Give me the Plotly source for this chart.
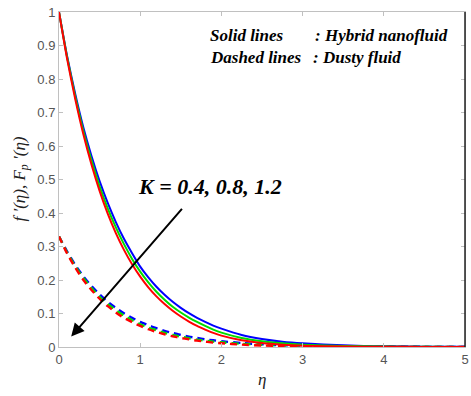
import plotly.graph_objects as go

eta = [0, 0.1, 0.2, 0.3, 0.4, 0.5, 0.6, 0.7, 0.8, 0.9, 1.0,
       1.1, 1.2, 1.3, 1.4, 1.5, 1.6, 1.7, 1.8, 1.9, 2.0,
       2.25, 2.5, 2.75, 3, 3.5, 4, 4.5, 5]

# Solid lines: hybrid nanofluid f'(eta), K = 0.4, 0.8, 1.2
f_K04 = [1, 0.868, 0.755, 0.655, 0.57, 0.495, 0.43, 0.373, 0.323, 0.28, 0.24,
         0.208, 0.18, 0.156, 0.135, 0.117, 0.101, 0.087, 0.075, 0.064, 0.055,
         0.036, 0.024, 0.016, 0.011, 0.005, 0.002, 0.001, 0.0005]
f_K08 = [1, 0.865, 0.748, 0.645, 0.557, 0.48, 0.414, 0.357, 0.307, 0.263, 0.225,
         0.193, 0.165, 0.141, 0.12, 0.103, 0.088, 0.075, 0.063, 0.052, 0.043,
         0.027, 0.017, 0.011, 0.007, 0.003, 0.0015, 0.0007, 0.0003]
f_K12 = [1, 0.86, 0.74, 0.635, 0.545, 0.466, 0.398, 0.34, 0.29, 0.247, 0.21,
         0.178, 0.151, 0.128, 0.108, 0.091, 0.076, 0.063, 0.052, 0.042, 0.034,
         0.02, 0.012, 0.007, 0.004, 0.0015, 0.0006, 0.0002, 0.0]

# Dashed lines: dusty fluid F_p'(eta)
Fp_K04 = [0.33, 0.285, 0.245, 0.211, 0.182, 0.157, 0.135, 0.117, 0.101, 0.087, 0.075,
          0.065, 0.056, 0.048, 0.042, 0.036, 0.031, 0.027, 0.023, 0.02, 0.017,
          0.012, 0.008, 0.0055, 0.004, 0.002, 0.001, 0.0005, 0.0002]
Fp_K08 = [0.33, 0.282, 0.241, 0.206, 0.176, 0.150, 0.128, 0.110, 0.094, 0.080, 0.068,
          0.058, 0.05, 0.042, 0.036, 0.031, 0.026, 0.022, 0.019, 0.016, 0.014,
          0.0095, 0.0065, 0.0045, 0.003, 0.0015, 0.0007, 0.0003, 0.0001]
Fp_K12 = [0.33, 0.279, 0.237, 0.200, 0.170, 0.144, 0.122, 0.103, 0.087, 0.074, 0.063,
          0.053, 0.045, 0.038, 0.032, 0.027, 0.023, 0.019, 0.016, 0.013, 0.011,
          0.007, 0.0045, 0.003, 0.002, 0.001, 0.0004, 0.0002, 0.0]

colors = ["#0000ff", "#00dd00", "#ff0000"]
x_ticks = [0, 1, 2, 3, 4, 5]
y_ticks = [0, 0.1, 0.2, 0.3, 0.4, 0.5, 0.6, 0.7, 0.8, 0.9, 1]
y_tick_text = ["0", "0.1", "0.2", "0.3", "0.4", "0.5", "0.6", "0.7", "0.8", "0.9", "1"]

fig = go.Figure()
for ys, c in zip([Fp_K04, Fp_K08, Fp_K12], colors):
    fig.add_trace(go.Scatter(x=eta, y=ys, mode="lines", line=dict(color=c, width=2.4, dash="7px,5px", shape="spline", smoothing=0.6), showlegend=False))
for ys, c in zip([f_K04, f_K08, f_K12], colors):
    fig.add_trace(go.Scatter(x=eta, y=ys, mode="lines", line=dict(color=c, width=2, shape="spline", smoothing=0.6), showlegend=False))

axcol = "#c0c0c0"
tickfont = dict(family="Liberation Sans, Arial", size=13, color="#555555")
fig.update_xaxes(range=[0, 5], tickvals=x_ticks, ticks="inside", ticklen=4, tickcolor=axcol,
                 showline=True, linecolor=axcol, linewidth=1, mirror="ticks", showgrid=False, zeroline=False,
                 tickfont=tickfont, ticklabeloverflow="allow")
fig.update_yaxes(range=[0, 1], tickvals=y_ticks, ticktext=y_tick_text,
                 ticks="inside", ticklen=4, tickcolor=axcol,
                 showline=True, linecolor=axcol, linewidth=1, mirror="ticks", showgrid=False, zeroline=False,
                 tickfont=tickfont, ticklabeloverflow="allow")

SERIF = "Liberation Serif, Times New Roman, serif"
serif_i = dict(family=SERIF, size=17, color="#222222")
bold_i = dict(family=SERIF, size=17, color="#000000")
annotations = [
    dict(text="<i>η</i>", xref="paper", yref="paper", x=0.5, y=0, yshift=-21, yanchor="top", showarrow=False, font=serif_i),
    dict(text="<i>f ′(η), F<sub>p</sub> ′(η)</i>", xref="paper", yref="paper", x=0, xshift=-39, y=0.5, textangle=-90,
         showarrow=False, font=serif_i, xanchor="center", yanchor="middle"),
    dict(text="<b><i>Solid lines</i></b>", xref="paper", yref="paper", x=(209 - 59) / 410, y=(347 - 36) / 335,
         xanchor="left", yanchor="middle", showarrow=False, font=bold_i),
    dict(text="<b><i>: Hybrid nanofluid</i></b>", xref="paper", yref="paper", x=(316 - 59) / 410, y=(347 - 36) / 335,
         xanchor="left", yanchor="middle", showarrow=False, font=bold_i),
    dict(text="<b><i>Dashed lines</i></b>", xref="paper", yref="paper", x=(209 - 59) / 410, y=(347 - 58) / 335,
         xanchor="left", yanchor="middle", showarrow=False, font=bold_i),
    dict(text="<b><i>: Dusty fluid</i></b>", xref="paper", yref="paper", x=(313 - 59) / 410, y=(347 - 58) / 335,
         xanchor="left", yanchor="middle", showarrow=False, font=bold_i),
    dict(text="<b><i>K = 0.4, 0.8, 1.2</i></b>", xref="x", yref="y", x=1.86, y=0.478, xanchor="center", yanchor="middle",
         showarrow=False, font=dict(family=SERIF, size=22, color="#000000")),
    dict(x=0.15, y=0.031, ax=1.53, ay=0.417, xref="x", yref="y", axref="x", ayref="y", text="", showarrow=True,
         arrowhead=2, arrowsize=1.3, arrowwidth=2, arrowcolor="#000000"),
]
fig.update_layout(
    width=471, height=396,
    margin=dict(l=59, r=2, t=12, b=49),
    paper_bgcolor="white", plot_bgcolor="white",
    annotations=annotations,
    shapes=[dict(type="line", xref="paper", yref="paper", x0=1, x1=1, y0=0, y1=1, line=dict(color="#222222", width=1.5))],
)
fig.write_html("out.html", config={"displayModeBar": False},
               post_script="document.body.style.margin='0';document.body.style.overflow='hidden';")
